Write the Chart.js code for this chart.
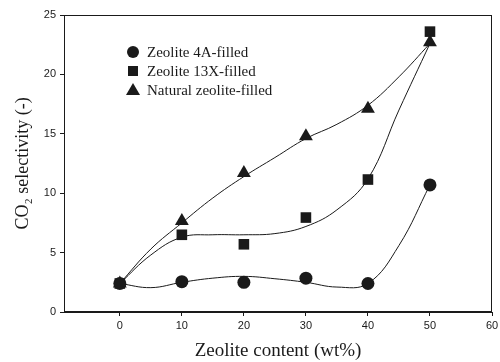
<!DOCTYPE html>
<html>
<head>
<meta charset="utf-8">
<script src="https://cdn.jsdelivr.net/npm/chart.js@4"></script>
<style>
  html, body { margin: 0; padding: 0; background: #fff; }
  #wrap { width: 500px; height: 362px; }
</style>
</head>
<body>
<div id="wrap"><canvas id="zeoCanvas" width="500" height="362"></canvas></div>
<script>
const xContent = [0, 10, 20, 30, 40, 50];
const sel4A = [2.4, 2.55, 2.5, 2.85, 2.4, 10.7];
const sel13X = [2.4, 6.5, 5.7, 7.95, 11.15, 23.6];
const selNatural = [2.4, 7.65, 11.7, 14.8, 17.1, 22.7];

// fitted curves, every 5 wt%
const xFit = [0, 5, 10, 15, 20, 25, 30, 35, 40, 45, 50];
const fit4A = [2.4, 2.05, 2.5, 2.85, 3.0, 2.8, 2.5, 2.1, 2.4, 5.6, 10.7];
const fit13X = [2.4, 4.8, 6.3, 6.5, 6.5, 6.6, 7.2, 8.6, 11.2, 17.0, 22.6];
const fitNatural = [2.4, 5.3, 7.5, 9.6, 11.4, 13.0, 14.6, 15.8, 17.4, 19.8, 22.6];

const seriesNames = ['Zeolite 4A-filled', 'Zeolite 13X-filled', 'Natural zeolite-filled'];
const seriesMarkers = ['circle', 'rect', 'triangle'];
const xTicks = [0, 10, 20, 30, 40, 50, 60];

const ink = '#1a1a1a';

function pts(xs, ys) {
  return xs.map((x, i) => ({ x: x, y: ys[i] }));
}

function curve(ys) {
  return {
    type: 'line',
    data: pts(xFit, ys),
    borderColor: ink,
    borderWidth: 1,
    pointRadius: 0,
    tension: 0.4,
    fill: false,
    order: 2
  };
}

function markers(ys, style, r) {
  return {
    type: 'scatter',
    data: pts(xContent, ys),
    pointStyle: style,
    pointRadius: r,
    pointBackgroundColor: ink,
    pointBorderColor: ink,
    pointBorderWidth: 0,
    showLine: false,
    order: 1
  };
}

// box around plot + legend inside the plot
const framePlugin = {
  id: 'frame',
  afterDraw(chart) {
    const ctx = chart.ctx;
    const a = chart.chartArea;
    ctx.save();
    ctx.strokeStyle = ink;
    ctx.lineWidth = 1;
    ctx.strokeRect(a.left + 0.5, a.top + 0.5, a.right - a.left - 1, a.bottom - a.top - 1);

    const mx = 133, tx = 147;
    const rows = [52, 71, 90];
    ctx.fillStyle = ink;
    ctx.font = '15px "Liberation Serif", "Times New Roman", serif';
    ctx.textBaseline = 'middle';
    rows.forEach((y, i) => {
      ctx.beginPath();
      if (seriesMarkers[i] === 'circle') {
        ctx.arc(mx, y, 6, 0, Math.PI * 2);
      } else if (seriesMarkers[i] === 'rect') {
        ctx.rect(mx - 5, y - 5, 10, 10);
      } else {
        ctx.moveTo(mx, y - 7);
        ctx.lineTo(mx + 7, y + 5);
        ctx.lineTo(mx - 7, y + 5);
        ctx.closePath();
      }
      ctx.fill();
      ctx.fillText(seriesNames[i], tx, y + 1);
    });
    ctx.restore();
  }
};

new Chart(document.getElementById('zeoCanvas'), {
  data: {
    datasets: [
      curve(fit4A),
      curve(fit13X),
      curve(fitNatural),
      markers(sel4A, 'circle', 6.5),
      markers(selNatural, 'triangle', 8),
      markers(sel13X, 'rect', 7.5)
    ]
  },
  options: {
    responsive: false,
    animation: false,
    layout: { padding: { left: 0, right: 4, top: 15, bottom: 0 } },
    plugins: {
      legend: { display: false },
      tooltip: { enabled: false }
    },
    scales: {
      x: {
        type: 'linear',
        min: -9,
        max: 60,
        afterBuildTicks(s) { s.ticks = xTicks.map(v => ({ value: v })); },
        afterFit(s) { s.height = 50; s.paddingLeft = 0; s.paddingRight = 0; },
        grid: { display: true, drawOnChartArea: false, tickLength: 4, color: ink },
        border: { display: true, color: ink, width: 1 },
        ticks: {
          padding: 3,
          color: ink,
          font: { family: '"Liberation Sans", Arial, sans-serif', size: 11 }
        },
        title: {
          display: true,
          text: 'Zeolite content (wt%)',
          color: ink,
          padding: { top: 0, bottom: 0 },
          font: { family: '"Liberation Serif", "Times New Roman", serif', size: 19 }
        }
      },
      y: {
        min: 0,
        max: 25,
        ticks: {
          stepSize: 5,
          padding: 4,
          color: ink,
          font: { family: '"Liberation Sans", Arial, sans-serif', size: 11 }
        },
        afterFit(s) { s.width = 64; },
        grid: { display: true, drawOnChartArea: false, tickLength: 4, color: ink },
        border: { display: true, color: ink, width: 1 },
        title: {
          display: true,
          text: 'CO\u2082 selectivity (-)',
          color: ink,
          padding: { top: 12, bottom: 0 },
          font: { family: '"Liberation Serif", "Times New Roman", serif', size: 18 }
        }
      }
    }
  },
  plugins: [framePlugin]
});
</script>
</body>
</html>
